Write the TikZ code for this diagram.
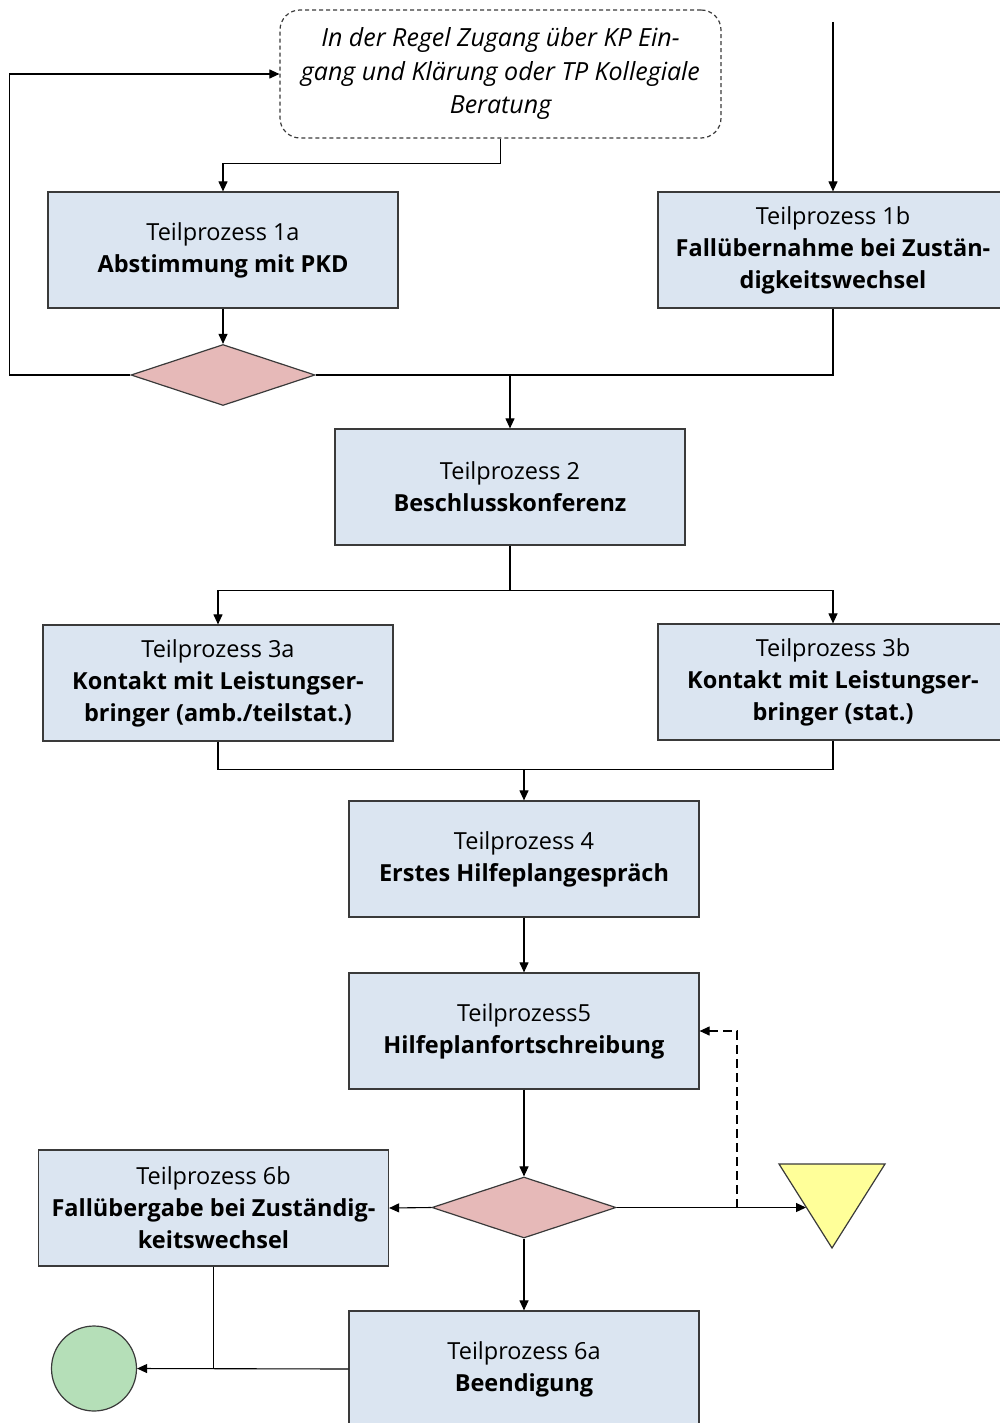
\documentclass[tikz,border=0pt]{standalone}
\usepackage{fontspec}
\setmainfont{Open Sans}
\usetikzlibrary{arrows.meta,shapes.geometric,calc}
\definecolor{boxfill}{HTML}{DBE5F1}
\definecolor{linec}{HTML}{3A3A3A}
\definecolor{decfill}{HTML}{E6B9B8}
\definecolor{endfill}{HTML}{B5DFB8}
\definecolor{markfill}{HTML}{FFFF99}
\tikzset{
  proc/.style={draw=linec, line width=1.2pt, fill=boxfill, minimum width=350pt,
    minimum height=116pt, inner sep=0pt, align=center,
    font=\fontsize{23.5}{32}\selectfont},
  note/.style={draw=linec, line width=1.2pt, dashed, dash pattern=on 4pt off 3pt,
    rounded corners=20pt, minimum width=441pt, minimum height=128pt,
    inner sep=0pt, align=center, font=\fontsize{25}{33.5}\selectfont\itshape},
  decision/.style={diamond, draw=linec, line width=1.2pt, fill=decfill,
    minimum width=184pt, minimum height=61pt, inner sep=0pt},
  flow/.style={draw=black, line width=1.1pt},
  arr/.style={flow, -{Triangle[length=10pt,width=9pt]}},
}
\newcommand{\hd}[1]{\textbf{#1}}
\begin{document}
\begin{tikzpicture}[x=1pt,y=-1pt]
\useasboundingbox (0,0) rectangle (999,1423);

% process nodes
\node[note] (note) at (500.5,74) {In der Regel Zugang über KP Ein-\\gang und Klärung oder TP Kollegiale\\Beratung};
\node[proc] (p1a) at (223,250) {Teilprozess 1a\\\hd{Abstimmung mit PKD}};
\node[proc] (p1b) at (833,250) {Teilprozess 1b\\\hd{Fallübernahme bei Zustän-}\\\hd{digkeitswechsel}};
\node[decision] (d1) at (223,375) {};
\node[proc] (p2) at (510,487) {Teilprozess 2\\\hd{Beschlusskonferenz}};
\node[proc] (p3a) at (218,683) {Teilprozess 3a\\\hd{Kontakt mit Leistungser-}\\\hd{bringer (amb./teilstat.)}};
\node[proc] (p3b) at (833,682) {Teilprozess 3b\\\hd{Kontakt mit Leistungser-}\\\hd{bringer (stat.)}};
\node[proc] (p4) at (524,859) {Teilprozess 4\\\hd{Erstes Hilfeplangespräch}};
\node[proc] (p5) at (524,1031) {Teilprozess5\\\hd{Hilfeplanfortschreibung}};
\node[decision] (d2) at (524,1207.5) {};
\node[proc] (p6b) at (213.5,1208) {Teilprozess 6b\\\hd{Fallübergabe bei Zuständig-}\\\hd{keitswechsel}};
\node[proc] (p6a) at (524,1369) {Teilprozess 6a\\\hd{Beendigung}};
\node[circle, draw=linec, line width=1.2pt, fill=endfill, minimum size=85pt, inner sep=0pt] (stop) at (94,1368.5) {};

% inverted triangle marker
\draw[draw=linec, line width=1.2pt, fill=markfill] (779,1164) -- (885,1164) -- (832,1248) -- cycle;
\coordinate (mark) at (806,1207.5);

% free entry from above and start of the dashed return
\coordinate (entry) at (833,22);
\coordinate (back) at (737,1207.5);

% connectors
\draw[arr] (note.south) -- ++(0,25) -| (p1a.north);
\draw[arr] (entry) -- (p1b.north);
\draw[arr] (p1a.south) -- (d1.north);
\draw[arr] (d1.west) -- ++(-121,0) |- (note.west);
\draw[flow] (d1.east) -| (p1b.south);
\draw[arr] (d1.east -| p2.north) -- (p2.north);
\draw[flow] (p2.south) -- ++(0,45) coordinate (split);
\draw[arr] (split) -| (p3a.north);
\draw[arr] (split) -| (p3b.north);
\draw[flow] (p3a.south) -- ++(0,28) coordinate (join) -| (p3b.south);
\draw[arr] (join -| p4.north) -- (p4.north);
\draw[arr] (p4.south) -- (p5.north);
\draw[arr] (p5.south) -- (d2.north);
\draw[arr] (d2.west) -- (p6b.east);
\draw[arr] (d2.east) -- (mark);
\draw[arr, dashed, dash pattern=on 9pt off 5pt] (back) |- (p5.east);
\draw[arr] (d2.south) -- (p6a.north);
\draw[flow] (p6b.south) -- (p6b.south |- stop.east);
\draw[arr] (p6a.west) -- (stop.east);
\end{tikzpicture}
\end{document}
